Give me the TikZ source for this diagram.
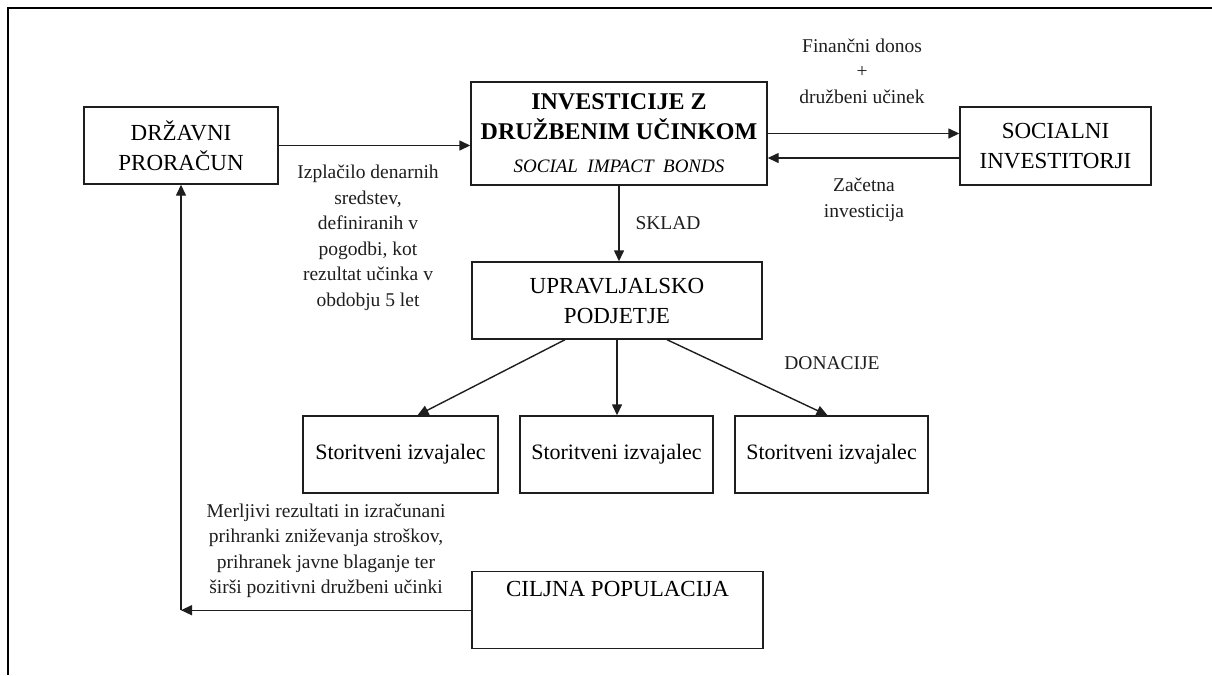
\documentclass[tikz,border=0pt]{standalone}
\usepackage{fontspec}
\setmainfont{Liberation Serif}
\usepackage{tikz}
\usetikzlibrary{calc,arrows.meta,positioning}
\definecolor{ink}{HTML}{1E1E1E}
\tikzset{
  box/.style={draw=ink, line width=1.4pt, align=center, inner sep=0pt, font=\fontsize{23}{30}\selectfont},
  arr/.style={draw=ink, line width=1.4pt, -{Triangle[length=11pt,width=10pt]}},
  edge/.style={draw=black, line width=2.5pt},
  lab/.style={text=ink, align=center, font=\fontsize{19.5}{25.5}\selectfont},
}

\begin{document}
\begin{tikzpicture}[x=1pt,y=-1pt]
  \useasboundingbox (0,0) rectangle (1212,675);
  \draw[edge] (8,675) -- (8,8) -- (1212,8);

  \node[box, minimum width=194pt, minimum height=77pt] (drz) at (181,145.5) {DRŽAVNI\\PRORAČUN};
  \node[box, minimum width=296pt, minimum height=103pt, font=\fontsize{24}{30}\selectfont\bfseries] (inv) at (619,133.5)
    {INVESTICIJE Z\\DRUŽBENIM UČINKOM\\[3pt]{\mdseries\itshape\fontsize{19}{24}\selectfont SOCIAL\ \ IMPACT\ \ BONDS}};
  \node[box, minimum width=191pt, minimum height=78pt] (soc) at (1055.5,146) {SOCIALNI\\INVESTITORJI};
  \node[box, minimum width=290pt, minimum height=77pt] (upr) at (617,300.5) {UPRAVLJALSKO\\PODJETJE};
  \node[box, minimum width=195pt, minimum height=77pt, font=\fontsize{22}{28}\selectfont] (st1) at (400.5,454.5) {Storitveni izvajalec};
  \node[box, minimum width=193pt, minimum height=77pt, font=\fontsize{22}{28}\selectfont] (st2) at (616.5,454.5) {Storitveni izvajalec};
  \node[box, minimum width=193pt, minimum height=77pt, font=\fontsize{22}{28}\selectfont] (st3) at (831.5,454.5) {Storitveni izvajalec};
  \node[box, minimum width=291pt, text height=25pt, text depth=52pt, anchor=north] (cilj) at (617.5,571) {CILJNA POPULACIJA};

  \node[lab] (fin) at (862,71) {Finančni donos\\+\\družbeni učinek};
  \node[lab] (zac) at (864,200) {Začetna\\investicija};
  \node[lab] (pay) at (368,238) {Izplačilo denarnih\\sredstev,\\definiranih v\\pogodbi, kot\\rezultat učinka v\\obdobju 5 let};
  \node[lab] (sklad) at (668,223) {SKLAD};
  \node[lab] (don) at (832,363) {DONACIJE};
  \node[lab] (meas) at (326,551) {Merljivi rezultati in izračunani\\prihranki zniževanja stroškov,\\prihranek javne blaganje ter\\širši pozitivni družbeni učinki};

  \draw[arr] (drz.east) -- (drz.east -| inv.west);
  \draw[arr] (inv.east) -- (inv.east -| soc.west);
  \draw[arr] ([yshift=-12pt]soc.west) -- ([yshift=-12pt]soc.west -| inv.east);
  \draw[arr] (inv.south) -- (inv.south |- upr.north);
  \draw[arr] ([xshift=-52pt]upr.south) -- ([xshift=17pt]st1.north);
  \draw[arr] (upr.south) -- (upr.south |- st2.north);
  \draw[arr] ([xshift=50pt]upr.south) -- ([xshift=-4pt]st3.north);
  % feedback to the budget
  \coordinate (turn) at (cilj.west -| drz.south);
  \draw[arr] (cilj.west) -- (turn);
  \draw[arr] (turn) -- (drz.south);
\end{tikzpicture}
\end{document}
